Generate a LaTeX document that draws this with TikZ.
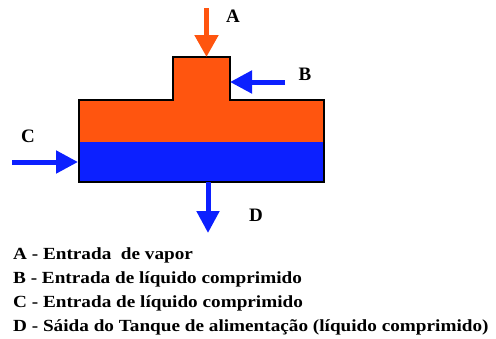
\documentclass[tikz,border=0pt]{standalone}
\usepackage{fontspec}
\setmainfont{Liberation Serif}
\newfontfamily\lgfont{Liberation Serif}[FakeStretch=1.13]
\usetikzlibrary{arrows.meta}
\definecolor{vapor}{RGB}{255,85,15}
\definecolor{liquido}{RGB}{12,32,255}
\tikzset{
  flowO/.style={draw=vapor,line width=5pt,-{Triangle[width=23pt,length=22pt]}},
  flowB/.style={draw=liquido,line width=5pt,-{Triangle[width=22pt,length=22pt]}},
  lbl/.style={font=\fontsize{19}{22}\selectfont\bfseries,inner sep=0pt},
  legend/.style={font=\lgfont\fontsize{17}{20}\selectfont\bfseries,inner sep=0pt,anchor=base west}
}
\begin{document}
\begin{tikzpicture}[x=1pt,y=-1pt]
\useasboundingbox (0,0) rectangle (496,338);
% tank contents
\fill[vapor] (79,100) -- (173,100) -- (173,57) -- (230,57) -- (230,100) -- (324,100) -- (324,142) -- (79,142) -- cycle;
\fill[liquido] (79,142) rectangle (324,182);
\draw[line width=1.3pt,line join=miter] (79,100) -- (173,100) -- (173,57) -- (230,57) -- (230,100) -- (324,100) -- (324,182) -- (79,182) -- cycle;
% connector ends
\coordinate (aS) at (206.5,8);
\coordinate (aE) at (206.5,57);
\coordinate (bS) at (285,82);
\coordinate (bE) at (230,82);
\coordinate (cS) at (12,162);
\coordinate (cE) at (78,162);
\coordinate (dS) at (208,182);
\coordinate (dE) at (208,233);
\draw[flowO] (aS) -- (aE);
\draw[flowB] (bS) -- (bE);
\draw[flowB] (cS) -- (cE);
\draw[flowB] (dS) -- (dE);
% labels
\node[lbl] (la) at (233,16.5) {A};
\node[lbl] (lb) at (305,74) {B};
\node[lbl] (lc) at (28,136) {C};
\node[lbl] (ld) at (256,215.5) {D};
% legend
\node[legend] (l1) at (13,259) {A - Entrada~ de vapor};
\node[legend] (l2) at (13,283) {B - Entrada de líquido comprimido};
\node[legend] (l3) at (13,307) {C - Entrada de líquido comprimido};
\node[legend] (l4) at (13,331) {D - Sáida do Tanque de alimentação (líquido comprimido)};
\end{tikzpicture}
\end{document}
